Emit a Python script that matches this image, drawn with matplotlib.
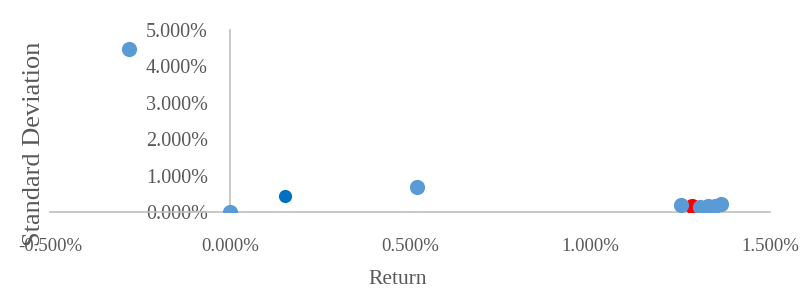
import matplotlib
matplotlib.use("Agg")
import matplotlib.pyplot as plt
from matplotlib.ticker import FuncFormatter

# Data (percent)
returns = [-0.28, 0.00, 0.52, 1.253, 1.305, 1.328, 1.348, 1.365]
stdevs = [4.47, 0.00, 0.69, 0.19, 0.15, 0.16, 0.17, 0.21]
dark_return = [0.153]
dark_std = [0.44]
red_return = [1.283]
red_std = [0.17]

x_ticks = [-0.5, 0.0, 0.5, 1.0, 1.5]
y_ticks = [0, 1, 2, 3, 4, 5]

plt.rcParams['font.family'] = ['Liberation Serif', 'DejaVu Serif']

fig = plt.figure(figsize=(8.03, 2.95), dpi=100)
ax = fig.add_axes([50/803, (295-212)/295, 720/803, (212-30)/295])

ax.scatter(red_return, red_std, s=120, color='#FF0000', zorder=3, linewidths=0)
ax.scatter(returns, stdevs, s=120, color='#5B9BD5', zorder=4, linewidths=0)
ax.scatter(dark_return, dark_std, s=90, color='#0070C0', zorder=4, linewidths=0)

ax.set_xlim(-0.5, 1.5)
ax.set_ylim(0, 5)
ax.set_xticks(x_ticks)
ax.set_yticks(y_ticks)
ax.xaxis.set_major_formatter(FuncFormatter(lambda v, p: f"{v:.3f}%"))
ax.yaxis.set_major_formatter(FuncFormatter(lambda v, p: f"{v:.3f}%"))

for s in ['top', 'right']:
    ax.spines[s].set_visible(False)
ax.spines['left'].set_position(('data', 0))
ax.spines['left'].set_color('#BFBFBF')
ax.spines['bottom'].set_color('#BFBFBF')
ax.spines['left'].set_linewidth(1.2)
ax.spines['bottom'].set_linewidth(1.2)
ax.tick_params(axis='y', length=0, pad=16, labelsize=14.5, labelcolor='#595959')
ax.tick_params(axis='x', length=0, pad=19, labelsize=13.5, labelcolor='#595959')
ax.patch.set_alpha(0)

fig.text(398/803, 1 - 280/295, 'Return', ha='center', va='center', fontsize=15.5, color='#595959')
fig.text(34/803, 1 - 144/295, 'Standard Deviation', ha='center', va='center', rotation=90,
         fontsize=19, color='#595959')

fig.savefig('out.png', dpi=100)
